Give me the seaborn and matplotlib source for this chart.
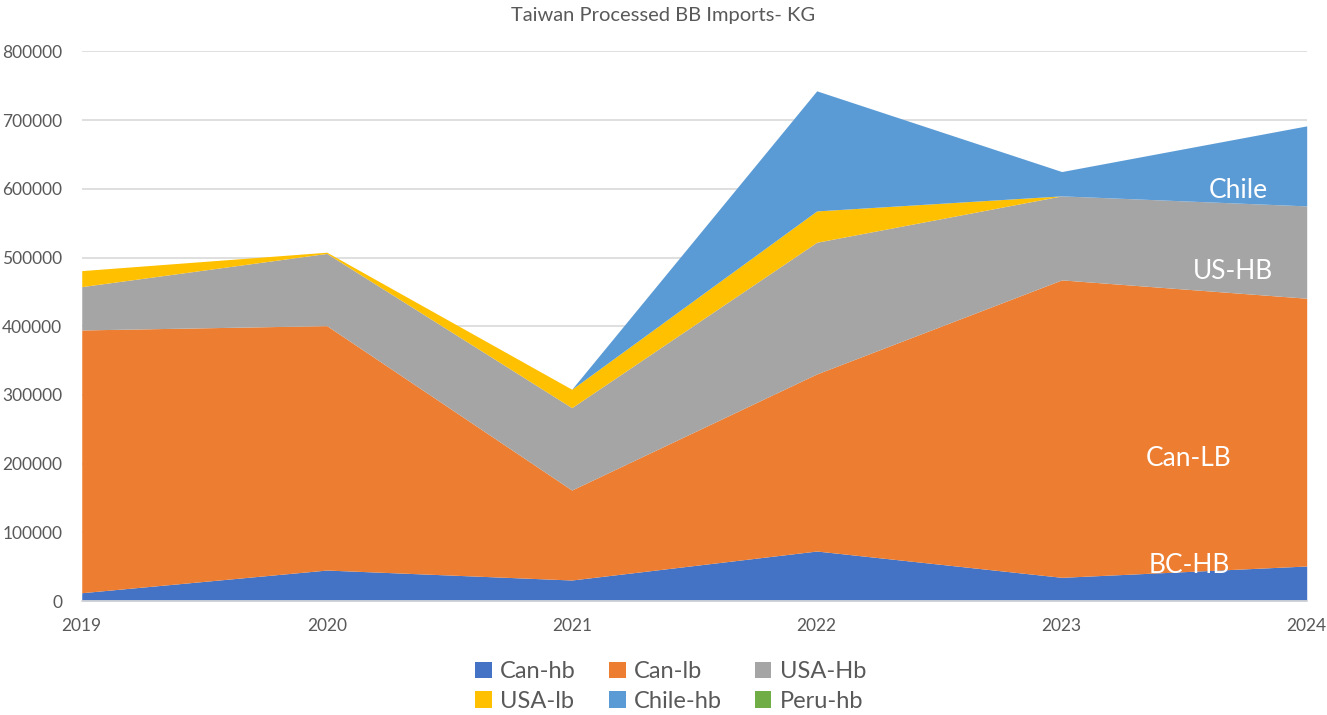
"""
Taiwan processed BB imports - stacked area chart
"""
import matplotlib
matplotlib.use('Agg')
import matplotlib.pyplot as plt
import seaborn as sns

# data (kg)
years = [2019, 2020, 2021, 2022, 2023, 2024]
can_hb = [12100, 45100, 30600, 72800, 34500, 51000]
can_lb = [382500, 355800, 131000, 257800, 433000, 389800]
usa_hb = [63100, 105100, 119900, 191700, 122300, 134400]
usa_lb = [23300, 1800, 26800, 45600, 0, 0]
chile_hb = [0, 0, 0, 174800, 35400, 116500]
peru_hb = [0, 0, 0, 0, 0, 0]

series_names = ['Can-hb', 'Can-lb', 'USA-Hb', 'USA-lb', 'Chile-hb', 'Peru-hb']
colors = ['#4472C4', '#ED7D31', '#A5A5A5', '#FFC000', '#5B9BD5', '#70AD47']
y_ticks = [0, 100000, 200000, 300000, 400000, 500000, 600000, 700000, 800000]

# 图内标注 (text, x, y)
area_labels = [('Chile', 2023.72, 597000),
               ('US-HB', 2023.70, 479000),
               ('Can-LB', 2023.52, 208000),
               ('BC-HB', 2023.52, 52000)]

sns.set_theme(style='white')
plt.rcParams['font.family'] = ['Lato', 'DejaVu Sans']

fig = plt.figure(figsize=(13.27, 7.15), dpi=100)
ax = fig.add_axes([0.0616, 0.1594, 0.9231, 0.7686])

ax.stackplot(years, can_hb, can_lb, usa_hb, usa_lb, chile_hb, peru_hb,
             labels=series_names, colors=colors, linewidth=0, zorder=2)

ax.set_xlim(2019, 2024)
ax.set_ylim(0, 800000)
ax.set_xticks(years)
ax.set_yticks(y_ticks)
ax.set_yticklabels([str(v) for v in y_ticks])
ax.grid(axis='y', color='#d9d9d9', linewidth=1.2, zorder=0)
ax.grid(axis='x', visible=False)
for side in ['top', 'right', 'left']:
    ax.spines[side].set_visible(False)
ax.spines['bottom'].set_color('#d9d9d9')
ax.spines['bottom'].set_zorder(3)
ax.tick_params(axis='both', colors='#595959', labelsize=12.5, length=0)
ax.tick_params(axis='x', pad=12)
ax.tick_params(axis='y', pad=14)

for txt, x, y in area_labels:
    ax.text(x, y, txt, color='white', fontsize=19, ha='center', va='center', zorder=4)

fig.text(0.5, 0.979, 'Taiwan Processed BB Imports- KG', ha='center', va='center',
         fontsize=14.5, color='#595959')

# legend filled row by row, like the original
handles, labels = ax.get_legend_handles_labels()
order = [0, 3, 1, 4, 2, 5]
leg = fig.legend([handles[i] for i in order], [labels[i] for i in order],
                 loc='center', bbox_to_anchor=(0.5055, 0.040), ncol=3, frameon=False,
                 fontsize=17, handlelength=0.7, handleheight=0.7, handletextpad=0.35,
                 columnspacing=1.4, labelspacing=0.35)
for t in leg.get_texts():
    t.set_color('#595959')

plt.savefig('out.png', dpi=100)
